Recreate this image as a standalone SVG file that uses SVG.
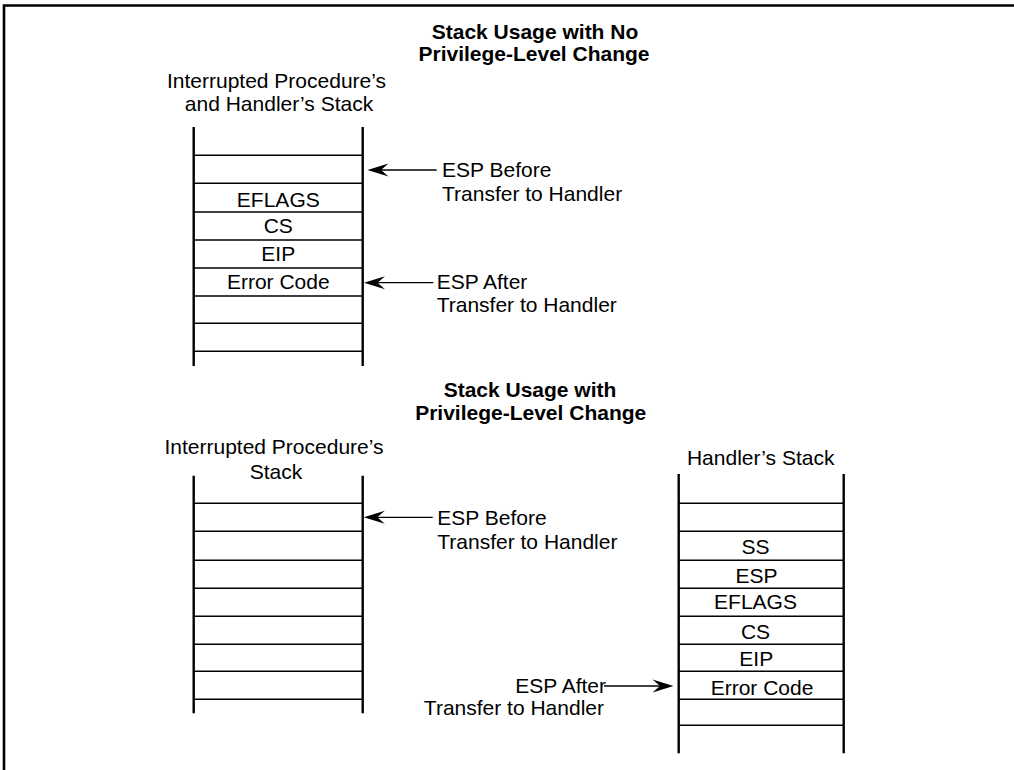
<svg xmlns="http://www.w3.org/2000/svg" width="1014" height="770" viewBox="0 0 1014 770">
<style>
text{font-family:"Liberation Sans",Arial,sans-serif;font-size:21px;fill:#000}
.t{font-weight:bold}
.c{text-anchor:middle}
.e{text-anchor:end}
.v{stroke:#000;stroke-width:2.4;fill:none}
.h{stroke:#000;stroke-width:1.4;fill:none}
.a{stroke:#000;stroke-width:1.3;fill:none}
.hd{fill:#000;stroke:none}
</style>
<rect width="1014" height="770" fill="#fff"/>
<path d="M4,770 V5.5 H1014" stroke="#000" stroke-width="2.6" fill="none"/>

<g id="title-top">
<text class="t c" x="535" y="38.5">Stack Usage with No</text>
<text class="t c" x="534" y="60.5">Privilege-Level Change</text>
</g>

<g id="stack-top">
<text class="c" x="276.5" y="87.5">Interrupted Procedure’s</text>
<text class="c" x="279" y="110.5">and Handler’s Stack</text>
<path class="v" d="M193.7,127 V366 M362.7,127 V366"/>
<path class="h" d="M193.7,155.3 H362.7 M193.7,183.3 H362.7 M193.7,212 H362.7 M193.7,240 H362.7 M193.7,268 H362.7 M193.7,296 H362.7 M193.7,323.3 H362.7 M193.7,351.3 H362.7"/>
<text class="c" x="278.3" y="206.5">EFLAGS</text>
<text class="c" x="278.3" y="233.3">CS</text>
<text class="c" x="278.3" y="260.7">EIP</text>
<text class="c" x="278.3" y="288.7">Error Code</text>
</g>

<g id="title-bottom">
<text class="t c" x="530" y="397">Stack Usage with</text>
<text class="t c" x="530.7" y="419.5">Privilege-Level Change</text>
</g>

<g id="stack-interrupted">
<text class="c" x="274" y="454">Interrupted Procedure’s</text>
<text class="c" x="276" y="479.3">Stack</text>
<path class="v" d="M193.7,475.7 V713.3 M362.7,475.7 V713.3"/>
<path class="h" d="M193.7,503.3 H362.7 M193.7,531.3 H362.7 M193.7,560.3 H362.7 M193.7,588.3 H362.7 M193.7,616.3 H362.7 M193.7,644.3 H362.7 M193.7,671.3 H362.7 M193.7,699.3 H362.7"/>
</g>

<g id="stack-handler">
<text class="c" x="760.7" y="464.7">Handler’s Stack</text>
<path class="v" d="M678.7,474 V753.3 M843.7,474 V753.3"/>
<path class="h" d="M678.7,503.3 H843.7 M678.7,531.3 H843.7 M678.7,560.3 H843.7 M678.7,588.3 H843.7 M678.7,616.3 H843.7 M678.7,644.3 H843.7 M678.7,671.3 H843.7 M678.7,699.3 H843.7 M678.7,725.3 H843.7"/>
<text class="c" x="755.5" y="554">SS</text>
<text class="c" x="756.5" y="582.7">ESP</text>
<text class="c" x="755.5" y="609.3">EFLAGS</text>
<text class="c" x="755.5" y="638.7">CS</text>
<text class="c" x="756.3" y="666">EIP</text>
<text class="c" x="762" y="694.7">Error Code</text>
</g>

<g id="labels">
<text x="442" y="177">ESP Before</text>
<text x="442" y="200.5">Transfer to Handler</text>
<text x="436.7" y="289.3">ESP After</text>
<text x="436.7" y="312">Transfer to Handler</text>
<text x="437.3" y="525.3">ESP Before</text>
<text x="437.3" y="548.7">Transfer to Handler</text>
<text class="e" x="606" y="692.7">ESP After</text>
<text class="e" x="604" y="715.3">Transfer to Handler</text>
</g>

<g id="connectors">
<path class="a" d="M436.7,170 H380"/>
<path class="hd" d="M367.5,170 L388.5,163.5 L381,170 L388.5,176.5 Z"/>
<path class="a" d="M433.3,282.7 H376"/>
<path class="hd" d="M364,282.7 L385,276.2 L377.5,282.7 L385,289.2 Z"/>
<path class="a" d="M432.7,517.3 H376"/>
<path class="hd" d="M363.8,517.3 L384.8,510.8 L377.3,517.3 L384.8,523.8 Z"/>
<path class="a" d="M604,686 H662"/>
<path class="hd" d="M673.5,686 L652.5,679.5 L660,686 L652.5,692.5 Z"/>
</g>
</svg>
